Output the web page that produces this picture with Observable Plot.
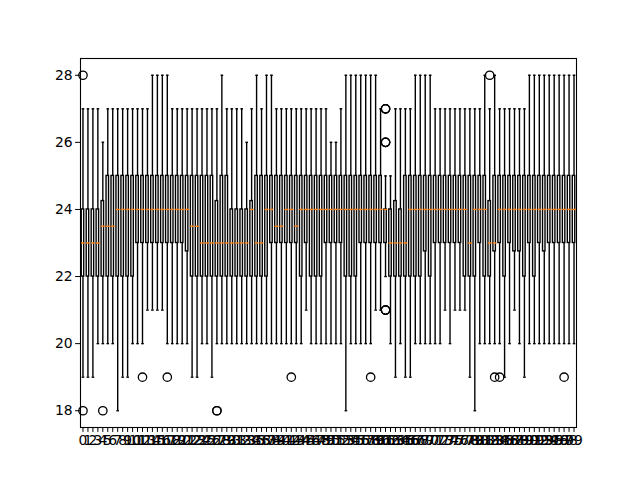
<!DOCTYPE html>
<html>
<head>
<meta charset="utf-8">
<script src="https://cdn.jsdelivr.net/npm/d3@7"></script>
<script src="https://cdn.jsdelivr.net/npm/@observablehq/plot@0.6"></script>
<style>
  html, body { margin: 0; padding: 0; background: white; }
</style>
</head>
<body>
<div id="chart"></div>
<script>
// Box statistics per position (positions 1..100, labelled 0..99)
const whiskerLow = [
  19,19,19,20,20,20,20,18,19,19,
  20,20,20,21,21,21,21,20,20,20,
  20,20,19,19,20,20,19,20,20,20,
  20,20,20,20,20,20,20,20,20,20,
  20,20,20,20,20,21,20,20,20,20,
  20,20,20,18,20,20,20,20,20,21,
  21,22,20,19,20,19,19,20,20,20,
  20,20,20,21,20,21,21,21,19,18,
  20,20,20,20,20,19,20,21,20,19,
  20,20,20,20,20,20,20,20,20,20
];
const q1 = [
  22,22,22,22,22,22,22,22,22,22,
  22,23,23,23,23,23,23,23,23,23,
  23,22.75,22,22,22,22,22,22,22,22,
  22,22,22,22,22,22,22,22,23,23,
  23,23,23,23,22,23,22,22,22,23,
  23,23,23,22,22,22,23,23,23,23,
  23,23,22,22,22,22,22,22,22,22.75,
  22,23,23,23,23,23,23,22,22,22,
  23,22,22,22.75,23,22,23,22.75,22.75,22,
  23,22,23,22.75,23,23,23,23,23,23
];
const median = [
  23,23,23,23,23.5,23.5,23.5,24,24,24,
  24,24,24,24,24,24,24,24,24,24,
  24,24,23.5,23.5,23,23,23,23,23,23,
  23,23,23,23,24,23,23,24,24,23.5,
  23.5,24,24,23.5,24,24,24,24,24,24,
  24,24,24,24,24,24,24,24,24,24,
  24,24,23,23,23,23,24,24,24,24,
  24,24,24,24,24,24,24,24,23,24,
  24,24,23,23,24,24,24,24,24,24,
  24,24,24,24,24,24,24,24,24,24
];
const q3 = [
  24,24,24,24,24.25,25,25,25,25,25,
  25,25,25,25,25,25,25,25,25,25,
  25,25,25,25,25,25,25,24.25,25,25,
  24,24,24,24,24.25,25,25,25,25,25,
  25,25,25,25,25,25,25,25,25,25,
  25,25,25,25,25,25,25,25,25,25,
  25,24,24,24.25,24,25,25,25,25,25,
  25,25,25,25,25,25,25,25,25,25,
  25,25,24.25,25,25,25,25,25,25,25,
  25,25,25,25,25,25,25,25,25,25
];
const whiskerHigh = [
  27,27,27,27,26,27,27,27,27,27,
  27,27,27,27,28,28,28,28,27,27,
  27,27,27,27,27,27,27,27,28,27,
  27,27,27,26,27,28,27,28,28,27,
  27,27,27,27,27,27,27,27,27,27,
  26,26,27,28,28,28,28,28,28,28,
  27,25,25,27,27,27,27,28,28,28,
  28,27,27,27,27,27,27,27,27,27,
  27,28,27,28,27,27,27,27,27,27,
  28,28,28,28,28,28,28,28,28,28
];
const outlierPos = [1, 1, 5, 13, 18, 28, 28, 43, 59, 62, 62, 62, 62, 62, 62, 62, 62, 62, 83, 84, 85, 98];
const outlierVal = [28, 18, 18, 19, 19, 18, 18, 19, 19, 27, 27, 27, 26, 26, 26, 21, 21, 21, 28, 19, 19, 19];
const tickPositions = d3.range(1, 101);
const tickLabels = d3.range(0, 100).map(String);
const yTicks = [18, 20, 22, 24, 26, 28];

const boxes = whiskerLow.map((lo, i) => ({
  pos: i + 1, lo, q1: q1[i], med: median[i], q3: q3[i], hi: whiskerHigh[i]
}));
const outliers = outlierPos.map((p, i) => ({pos: p, val: outlierVal[i]}));

const lw = 1.39;
const plot = Plot.plot({
  width: 640,
  height: 480,
  marginLeft: 80,
  marginRight: 64,
  marginTop: 58,
  marginBottom: 53,
  style: {fontFamily: "DejaVu Sans", fontSize: "13.9px", background: "white", color: "black"},
  x: {domain: [0.5, 100.5], label: null},
  y: {domain: [17.5, 28.5], label: null},
  marks: [
    // whiskers
    Plot.ruleX(boxes, {x: "pos", y1: "q3", y2: "hi", stroke: "black", strokeWidth: lw}),
    Plot.ruleX(boxes, {x: "pos", y1: "lo", y2: "q1", stroke: "black", strokeWidth: lw}),
    // caps
    Plot.link(boxes, {x1: d => d.pos - 0.125, x2: d => d.pos + 0.125, y1: "hi", y2: "hi", stroke: "black", strokeWidth: lw, strokeLinecap: "square"}),
    Plot.link(boxes, {x1: d => d.pos - 0.125, x2: d => d.pos + 0.125, y1: "lo", y2: "lo", stroke: "black", strokeWidth: lw, strokeLinecap: "square"}),
    // boxes
    Plot.rect(boxes, {x1: d => d.pos - 0.25, x2: d => d.pos + 0.25, y1: "q1", y2: "q3", fill: "none", stroke: "black", strokeWidth: lw}),
    // medians
    Plot.link(boxes, {x1: d => d.pos - 0.25, x2: d => d.pos + 0.25, y1: "med", y2: "med", stroke: "#ff7f0e", strokeWidth: lw, strokeLinecap: "square"}),
    // outliers
    Plot.dot(outliers, {x: "pos", y: "val", r: 4.2, fill: "none", stroke: "black", strokeWidth: 1.3}),
    Plot.axisX({ticks: tickPositions, tickFormat: (d) => tickLabels[d - 1], tickSize: 4.9, tickPadding: 2.5, fontSize: 13.9}),
    Plot.axisY({ticks: yTicks, tickSize: 4.9, tickPadding: 3, fontSize: 13.9}),
    Plot.frame({stroke: "black", strokeWidth: 1.1})
  ]
});
document.getElementById("chart").appendChild(plot);
</script>
</body>
</html>
